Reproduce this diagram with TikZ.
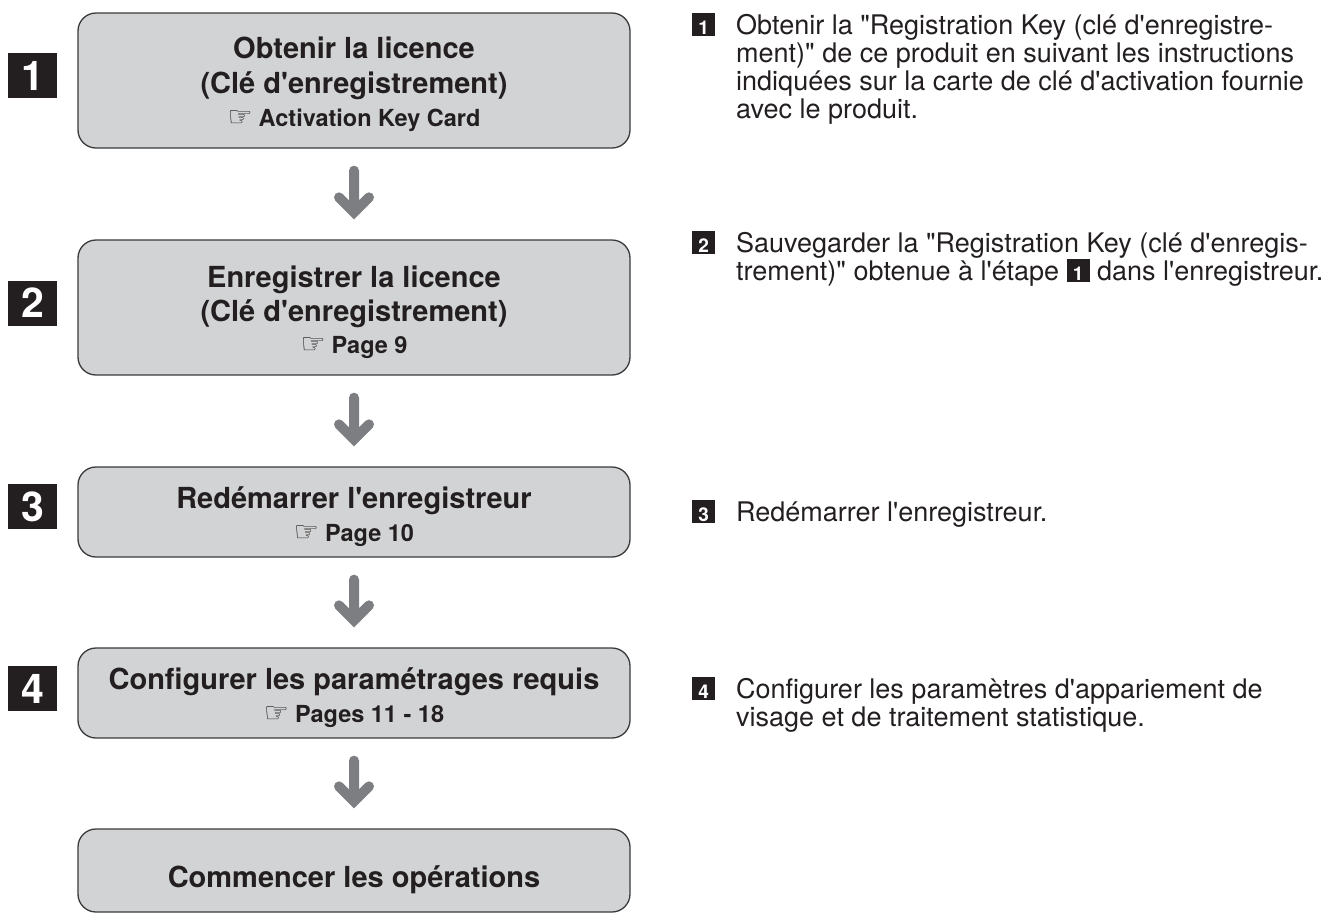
\documentclass[tikz,border=0pt]{standalone}
\usepackage{fontspec}
\setmainfont{TeX Gyre Heros}[Ligatures=TeXOff]
\newfontfamily\symfont{DejaVu Sans}
\usetikzlibrary{calc}
\definecolor{boxfill}{HTML}{D1D3D4}
\definecolor{boxline}{HTML}{3A3A3C}
\definecolor{arrowgray}{HTML}{7D7E81}
\definecolor{ink}{HTML}{231F20}
\newcommand\keybox[1]{{\setlength{\fboxsep}{0pt}\colorbox{ink}{\makebox[23pt]{\rule[-2pt]{0pt}{23pt}\textcolor{white}{\bfseries\fontsize{19}{19}\selectfont #1}}}}}
\newcommand\hand{\raisebox{-0.5pt}{\symfont\fontsize{28}{28}\selectfont ☞}}
\tikzset{
  stepbox/.style={draw=boxline, line width=1.3pt, fill=boxfill, rounded corners=18pt, minimum width=552pt, inner sep=0pt},
  bigkey/.style={fill=ink, text=white, minimum width=49pt, minimum height=45pt, inner sep=0pt, font=\bfseries\fontsize{41}{41}\selectfont},
  maintxt/.style={anchor=base, inner sep=0pt, text=ink, font=\bfseries\fontsize{29}{29}\selectfont},
  subtxt/.style={anchor=base, inner sep=0pt, text=ink, font=\bfseries\fontsize{23.5}{23.5}\selectfont},
  bodytxt/.style={anchor=base west, inner sep=0pt, text=ink, font=\fontsize{27}{27}\selectfont},
  smallkey/.style={anchor=base west, inner sep=0pt},
  flow/.style={draw=arrowgray, line width=10pt, line cap=round, line join=miter,
    to path={(\tikztostart) -- (\tikztotarget) +(-15pt,15pt) -- (\tikztotarget) -- +(15pt,15pt)}}
}
\begin{document}
\begin{tikzpicture}[x=1pt,y=-1pt]
\useasboundingbox (0,0) rectangle (1333,914);
% boxes
\node[stepbox, minimum height=135pt] (b1) at (354,80.5) {};
\node[stepbox, minimum height=135pt] (b2) at (354,307.5) {};
\node[stepbox, minimum height=90pt] (b3) at (354,512) {};
\node[stepbox, minimum height=90pt] (b4) at (354,693) {};
\node[stepbox, minimum height=83pt] (b5) at (354,870.5) {};
% box texts
\node[maintxt] (t1a) at (354,58) {Obtenir la licence};
\node[maintxt] (t1b) at (354,93) {(Clé d'enregistrement)};
\node[subtxt] (t1c) at (354,126) {\hand\hspace{6pt}Activation Key Card};
\node[maintxt] (t2a) at (354,287) {Enregistrer la licence};
\node[maintxt] (t2b) at (354,321) {(Clé d'enregistrement)};
\node[subtxt] (t2c) at (354,353) {\hand\hspace{6pt}Page 9};
\node[maintxt] (t3a) at (354,508) {Redémarrer l'enregistreur};
\node[subtxt] (t3c) at (354,541) {\hand\hspace{6pt}Page 10};
\node[maintxt] (t4a) at (354,689) {Configurer les paramétrages requis};
\node[subtxt] (t4c) at (354,722) {\hand\hspace{6pt}Pages 11 - 18};
\node[maintxt] (t5a) at (354,887) {Commencer les opérations};
% left markers
\node[bigkey] (m1) at (32.5,75.5) {1};
\node[bigkey] (m2) at (32.5,303) {2};
\node[bigkey] (m3) at (32.5,506.5) {3};
\node[bigkey] (m4) at (32.5,688.5) {4};
% arrows
\coordinate (a1s) at ([yshift=-22pt]b1.south);
\coordinate (a1e) at ([yshift=27pt]b2.north);
\coordinate (a2s) at ([yshift=-22pt]b2.south);
\coordinate (a2e) at ([yshift=27pt]b3.north);
\coordinate (a3s) at ([yshift=-22pt]b3.south);
\coordinate (a3e) at ([yshift=27pt]b4.north);
\coordinate (a4s) at ([yshift=-22pt]b4.south);
\coordinate (a4e) at ([yshift=27pt]b5.north);
\draw[flow] (a1s) to (a1e);
\draw[flow] (a2s) to (a2e);
\draw[flow] (a3s) to (a3e);
\draw[flow] (a4s) to (a4e);
% right column
\node[smallkey] (k1) at (692,34) {\keybox{1}};
\node[bodytxt] (r1a) at (736,34) {Obtenir la "Registration Key (clé d'enregistre-};
\node[bodytxt] (r1b) at (736,62) {ment)" de ce produit en suivant les instructions};
\node[bodytxt] (r1c) at (736,90) {indiquées sur la carte de clé d'activation fournie};
\node[bodytxt] (r1d) at (736,118) {avec le produit.};
\node[smallkey] (k2) at (692,252) {\keybox{2}};
\node[bodytxt] (r2a) at (736,252) {Sauvegarder la "Registration Key (clé d'enregis-};
\node[bodytxt] (r2b) at (736,280) {trement)" obtenue à l'étape \keybox{1} dans l'enregistreur.};
\node[smallkey] (k3) at (692,521) {\keybox{3}};
\node[bodytxt] (r3a) at (736,521) {Redémarrer l'enregistreur.};
\node[smallkey] (k4) at (692,698) {\keybox{4}};
\node[bodytxt] (r4a) at (736,698) {Configurer les paramètres d'appariement de};
\node[bodytxt] (r4b) at (736,726) {visage et de traitement statistique.};
\end{tikzpicture}
\end{document}
